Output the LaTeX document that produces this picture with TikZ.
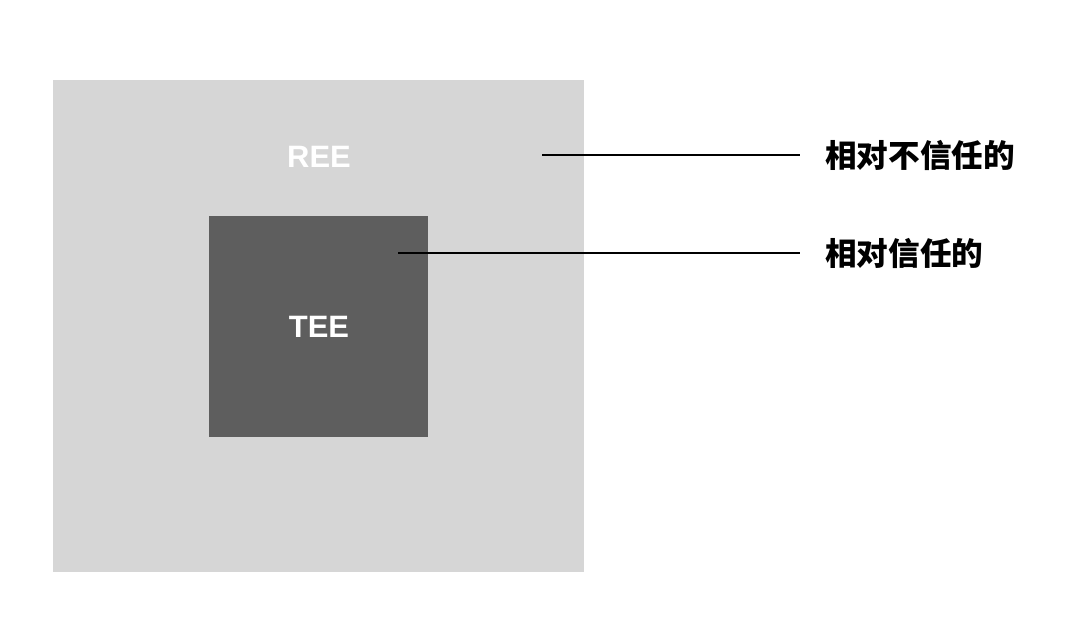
\documentclass[tikz,border=0pt]{standalone}
\usepackage{fontspec}
\setmainfont{Liberation Sans}
\newfontfamily\cjk{Noto Sans CJK SC}
\usetikzlibrary{positioning}
\definecolor{reegray}{HTML}{D6D6D6}
\definecolor{teegray}{HTML}{5E5E5E}

\begin{document}
\begin{tikzpicture}[
  x=0.025cm, y=-0.025cm,
  zone/.style={inner sep=0pt, outer sep=0pt},
  tag/.style={font=\fontsize{22}{25}\selectfont\bfseries, text=white},
  lbl/.style={font=\cjk\bfseries\fontsize{22.5}{26}\selectfont, anchor=west, inner sep=0pt},
  lead/.style={line width=1.6pt, black}]
\useasboundingbox (0,0) rectangle (1080,624);
% boxes
\node[zone, fill=reegray, minimum width=13.275cm, minimum height=12.3cm] (ree) at (318.5,326) {};
\node[zone, fill=teegray, minimum width=5.475cm, minimum height=5.525cm] (tee) at (318.5,326.5) {};
\node[tag] (reetxt) at (319,157) {REE};
\node[tag] (teetxt) at (319,327) {TEE};
% labels
\node[lbl] (untrust) at (825,155) {相对不信任的};
\node[lbl] (trust) at (825,253) {相对信任的};
\coordinate (p1) at (542,155);
\coordinate (p2) at (398,253);
\draw[lead] (p1) -- ([xshift=-0.625cm]untrust.west);
\draw[lead] (p2) -- ([xshift=-0.625cm]trust.west);
\end{tikzpicture}
\end{document}
